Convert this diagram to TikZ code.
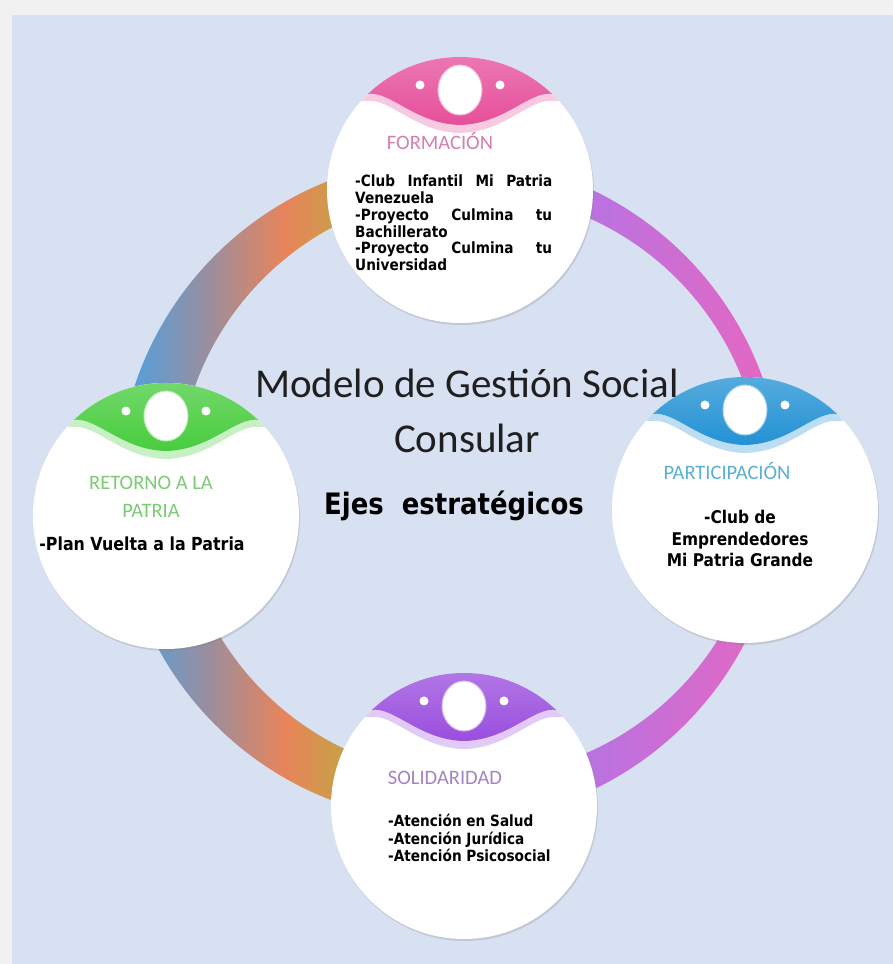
\documentclass[tikz,border=0pt]{standalone}
\usepackage{fontspec}
\setmainfont{Carlito}
\newfontfamily\tahoma{DejaVu Sans}[FakeStretch=0.88]
\usetikzlibrary{shadows}

\definecolor{framegrey}{HTML}{F1F1F1}
\definecolor{backblue}{HTML}{D8E1F1}
\definecolor{ringblue}{HTML}{5A9ED6}
\definecolor{ringgrey}{HTML}{9A8E9E}
\definecolor{ringorange}{HTML}{E8845A}
\definecolor{ringgold}{HTML}{C8A048}
\definecolor{ringviolet}{HTML}{B274E6}
\definecolor{ringpink}{HTML}{EA66BE}
\definecolor{pinkcap}{HTML}{E64F9B}
\definecolor{bluecap}{HTML}{2392D4}
\definecolor{greencap}{HTML}{48CC3E}
\definecolor{violetcap}{HTML}{9A4EDE}
\definecolor{pinkhead}{HTML}{D27FB2}
\definecolor{bluehead}{HTML}{5AAFD2}
\definecolor{greenhead}{HTML}{7BCB72}
\definecolor{violethead}{HTML}{A682C6}

\pgfdeclarehorizontalshading{warmring}{100bp}{color(0bp)=(ringblue); color(29bp)=(ringblue); color(39bp)=(ringgrey); color(50bp)=(ringorange); color(58bp)=(ringgold); color(100bp)=(ringgold)}

\tikzset{
  eje/.style={circle, fill=white, minimum size=266pt, inner sep=0pt,
    drop shadow={shadow xshift=1pt, shadow yshift=-2pt, opacity=0.25}},
  head/.style={font=\fontsize{20.5}{28}\selectfont, align=center, anchor=base, inner sep=0pt},
  items/.style 2 args={font=\tahoma\bfseries\fontsize{#1}{#2}\selectfont, inner sep=0pt},
}

\newcommand\ejecap[2]{%
  \begin{scope}[shift={(#1.center)}]
    \clip (0,0) circle (133);
    \fill[#2!30] (-140,89) -- (-93,89) .. controls (-70,92) and (-45,58) .. (0,57)
      .. controls (45,58) and (70,92) .. (93,89) -- (140,89) -- (140,140) -- (-140,140) -- cycle;
    \shade[top color=#2!75, bottom color=#2] (-140,96) -- (-93,96) .. controls (-70,100) and (-45,66) .. (0,65)
      .. controls (45,66) and (70,100) .. (93,96) -- (140,96) -- (140,140) -- (-140,140) -- cycle;
    \fill[white] (0,100) ellipse (22 and 25);
    \draw[#2!40, line width=1pt] (0,100) ellipse (22 and 25);
    \fill[white] (-40,105) circle (4.5) (40,105) circle (4.5);
  \end{scope}}

\begin{document}
\begin{tikzpicture}[x=1pt, y=1pt]
\useasboundingbox (0,0) rectangle (893,964);
\fill[framegrey] (0,0) rectangle (893,964);
\fill[backblue] (12,0) rectangle (893,949);

\begin{scope}
  \clip (450,474) circle (332);
  \shade[shading=warmring] (110,100) rectangle (460,860);
  \fill[ringviolet] (459,100) rectangle (561,860);
  \shade[left color=ringviolet, right color=ringpink] (560,100) rectangle (790,860);
\end{scope}
\fill[backblue] (470,479) circle (292);

\node[eje] (formacion) at (460,774) {};
\node[eje] (participacion) at (745,454) {};
\node[eje] (retorno) at (166,448) {};
\node[eje] (solidaridad) at (464,158) {};

\ejecap{formacion}{pinkcap}
\ejecap{participacion}{bluecap}
\ejecap{retorno}{greencap}
\ejecap{solidaridad}{violetcap}

\node[head, text=pinkhead] (formacionhead) at (440,814) {FORMACIÓN};
\node[items={15.5}{16.7}, text width=197pt, align=left, anchor=north west] (formacionlist) at (355,789)
  {-Club\hfill Infantil\hfill Mi\hfill Patria\\Venezuela\\-Proyecto\hfill Culmina\hfill tu\\Bachillerato\\-Proyecto\hfill Culmina\hfill tu\\Universidad};

\node[head, text=bluehead] (participacionhead) at (727,484) {PARTICIPACIÓN};
\node[items={17.5}{21.5}, align=center, anchor=base] (participacionlist) at (740,397)
  {-Club de\\Emprendedores\\Mi Patria Grande};

\node[head, text=greenhead] (retornohead) at (151,446) {RETORNO A LA\\PATRIA};
\node[items={18}{21}, anchor=base] (retornolist) at (142,413) {-Plan Vuelta a la Patria};

\node[head, text=violethead] (solidaridadhead) at (445,179) {SOLIDARIDAD};
\node[items={15.5}{17.5}, align=left, anchor=base west] (solidaridadlist) at (388,102)
  {-Atención en Salud\\-Atención Jurídica\\-Atención Psicosocial};

\node[font=\fontsize{41}{55}\selectfont, align=center, anchor=base, inner sep=0pt, text=black!88] (titulo) at (467,511)
  {Modelo de Gestión Social\\Consular};
\node[items={29.5}{33}, anchor=base] (ejes) at (454,449) {Ejes\ \ estratégicos};
\end{tikzpicture}
\end{document}
